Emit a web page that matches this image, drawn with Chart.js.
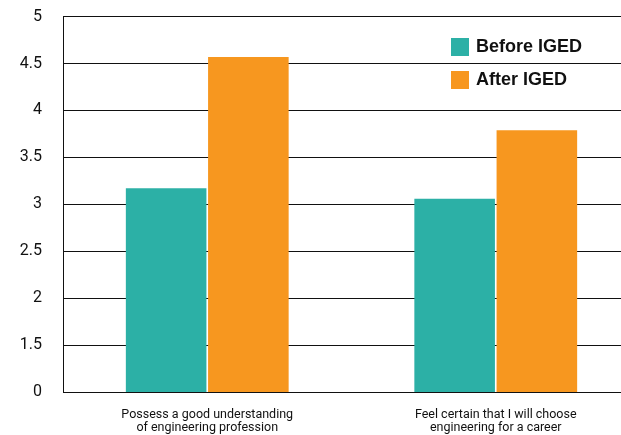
<!DOCTYPE html>
<html>
<head>
<meta charset="utf-8">
<script src="https://cdn.jsdelivr.net/npm/chart.js@4"></script>
<style>
  html, body { margin: 0; padding: 0; background: #fff; overflow: hidden; }
  #wrap { position: relative; width: 640px; height: 449px; margin-top: -14px; }
  .legend { position: absolute; left: 451px; font: bold 18px "Liberation Sans", Arial, sans-serif; color: #111; display: flex; align-items: center; }
  .legend span.box { display: inline-block; width: 18px; height: 18px; margin-right: 7px; }
</style>
</head>
<body>
<div id="wrap">
  <canvas id="c"></canvas>
  <div class="legend" style="top:50px"><span class="box" style="background:#2cb0a6"></span>Before IGED</div>
  <div class="legend" style="top:83px"><span class="box" style="background:#f7971f"></span>After IGED</div>
</div>
<script>
// ===== Survey: before / after IGED =====
const CATEGORIES = [
    ['Possess a good understanding', 'of engineering profession'],
    ['Feel certain that I will choose', 'engineering for a career']
];
const BEFORE = [3.17, 3.06];
const AFTER = [4.57, 3.79];

// axis is broken: the bottom gridline sits where 1 would be but is labelled 0
const TICK_VALUES = [1, 1.5, 2, 2.5, 3, 3.5, 4, 4.5, 5];
const TICK_LABELS = ['0', '1.5', '2', '2.5', '3', '3.5', '4', '4.5', '5'];

const TEAL = '#2cb0a6';
const ORANGE = '#f7971f';

const ctx = document.getElementById('c').getContext('2d');
new Chart(ctx, {
    type: 'bar',
    data: {
        labels: CATEGORIES,
        datasets: [
            { label: 'Before IGED', data: BEFORE, backgroundColor: TEAL, categoryPercentage: 0.57, barPercentage: 0.98 },
            { label: 'After IGED', data: AFTER, backgroundColor: ORANGE, categoryPercentage: 0.57, barPercentage: 0.98 }
        ]
    },
    options: {
        responsive: true, maintainAspectRatio: false,
        animation: false,
        layout: { padding: { top: 2, right: 0, left: 0, bottom: 0 } },
        scales: {
            x: {
                afterFit: s => { s.height = 43; },
                grid: { display: false, drawTicks: false },
                border: { color: '#111', width: 1 },
                ticks: { color: '#111', padding: 16, maxRotation: 0, font: { family: 'Roboto', size: 12.5, lineHeight: 1.05 } }
            },
            y: {
                min: 1, max: 5,
                afterBuildTicks: s => { s.ticks = TICK_VALUES.map(v => ({ value: v })); },
                afterFit: s => { s.width = 63; },
                grid: { color: '#111', lineWidth: 1, drawTicks: false },
                border: { color: '#111', width: 1 },
                ticks: {
                    color: '#111', padding: 21,
                    font: { family: 'Roboto', size: 16 },
                    callback: (v, i) => TICK_LABELS[i]
                }
            }
        },
        plugins: {
            legend: { display: false },
            tooltip: { enabled: false }
        }
    }
});
</script>
</body>
</html>
